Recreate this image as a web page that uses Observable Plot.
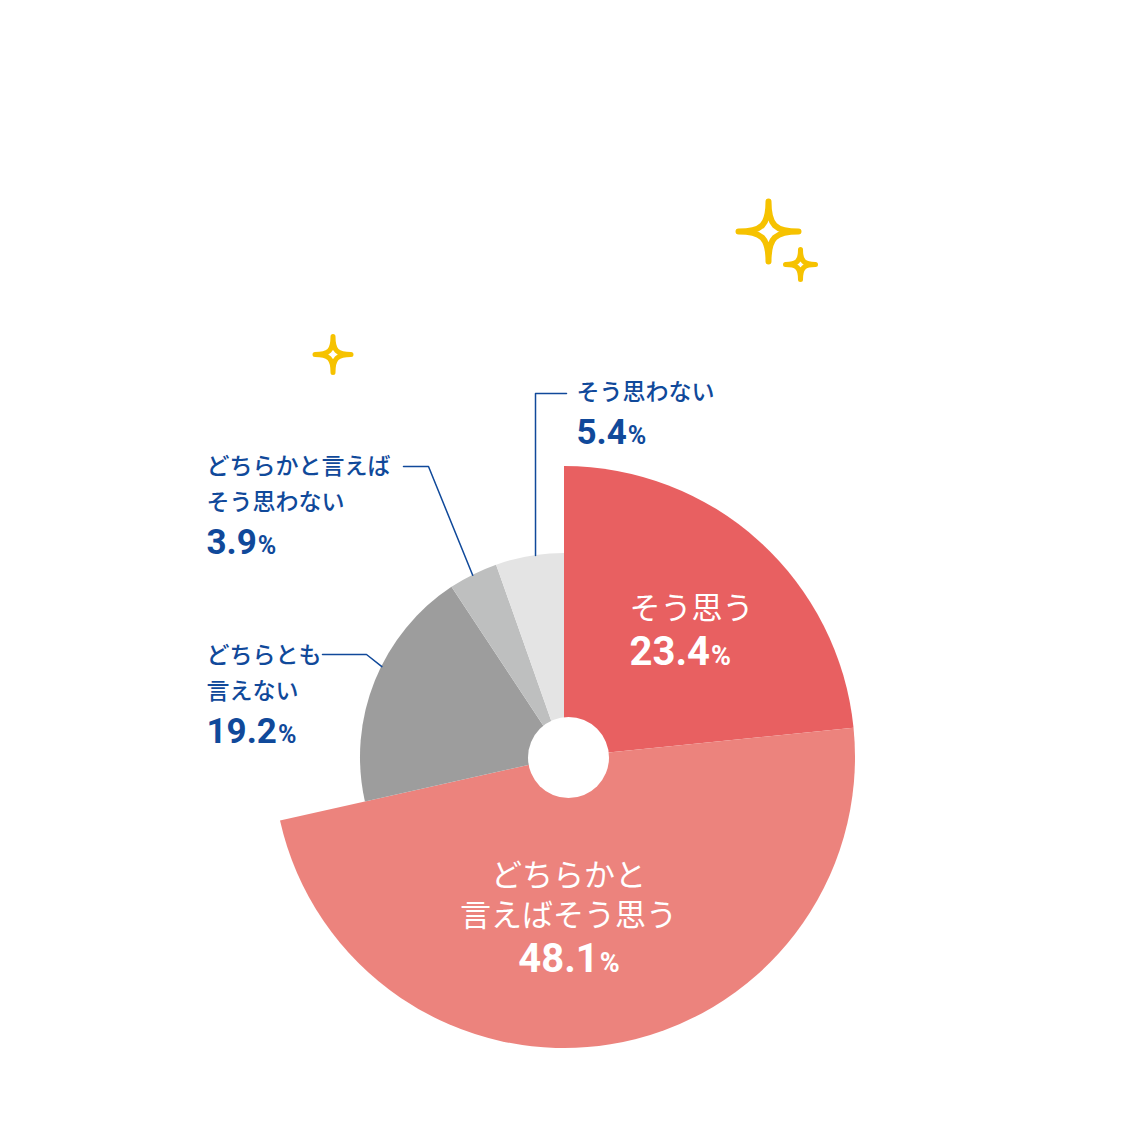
<!DOCTYPE html>
<html><head><meta charset="utf-8">
<script src="https://cdn.jsdelivr.net/npm/d3@7"></script>
<script src="https://cdn.jsdelivr.net/npm/@observablehq/plot@0.6"></script>
<style>html,body{margin:0;padding:0;background:#fff;} #chart svg{display:block}</style>
</head><body><div id="chart"></div>
<script>
// ---- data ----
const categories = ["そう思う", "どちらかと言えばそう思う", "どちらとも言えない", "どちらかと言えばそう思わない", "そう思わない"];
const values = [23.4, 48.1, 19.2, 3.9, 5.4];
const labelLines = [["そう思う"], ["どちらかと", "言えばそう思う"], ["どちらとも", "言えない"], ["どちらかと言えば", "そう思わない"], ["そう思わない"]];

// ---- styles ----
const sliceColors = ["#E86061", "#EC837D", "#9D9D9D", "#BEBFBF", "#E4E4E4"];
const blue = "#10499A";
const gold = "#F6C200";
const jpFont = "'Noto Sans CJK JP', 'Noto Sans', sans-serif";
const numFont = "Roboto, 'Liberation Sans', sans-serif";

// ---- layout (screen px) ----
const W = 1132, H = 1132;
const pieCenter = [564, 757];
const sliceRadius = [291, 291, 204, 204, 204];
const hole = {x: 568, y: 757, r: 40.5};
const labelLayout = [
  {x: 629, y: 618, anchor: "start", inside: true},
  {x: 568, y: 885, anchor: "middle", inside: true},
  {x: 206, y: 662, anchor: "start", inside: false},
  {x: 206, y: 473, anchor: "start", inside: false},
  {x: 576, y: 399, anchor: "start", inside: false}
];
const leaderLayout = [
  {slice: 2, frac: 0.565, elbow: [366, 654], end: [322, 654]},
  {slice: 3, frac: 0.48, elbow: [428, 466], end: [403, 466]},
  {slice: 4, frac: 0.58, elbow: [535, 393], end: [566, 393]}
];
const sparkles = [
  {x: 768, y: 231, r: 30, sw: 6},
  {x: 800, y: 264, r: 15, sw: 5},
  {x: 332.5, y: 354, r: 18, sw: 5}
];
const sizes = {
  inside: {text: 31, num: 40, pct: 27, lineGap: 40, numGap: 46, weight: 400},
  outside: {text: 23, num: 35, pct: 25, lineGap: 36, numGap: 44, weight: 500}
};

// ---- derived ----
const arcs = d3.pie().sort(null).value(d => d)(values);
const canvas = document.createElement("canvas");
const ctx = canvas.getContext("2d");
function measure(text, size) {
  ctx.font = `bold ${size}px ${numFont}`;
  return ctx.measureText(text).width;
}

const textRows = [], numRows = [], pctRows = [];
labelLayout.forEach((L, i) => {
  const s = L.inside ? sizes.inside : sizes.outside;
  const grp = L.inside ? "in" : "out";
  const n = labelLines[i].length;
  textRows.push({x: L.x, y: L.y + (n - 1) * s.lineGap, text: labelLines[i].join("\n"), grp, anchor: L.anchor});
  const ny = L.y + (n - 1) * s.lineGap + s.numGap;
  const numText = values[i].toFixed(1);
  const wN = measure(numText, s.num), wP = measure("%", s.pct);
  const x0 = L.anchor === "middle" ? L.x - (wN + wP) / 2 : L.x;
  numRows.push({x: x0, y: ny, text: numText, grp});
  pctRows.push({x: x0 + wN + 1, y: ny, text: "%", grp});
});

const leaderPts = [];
leaderLayout.forEach((d, k) => {
  const a = arcs[d.slice];
  const ang = a.startAngle + d.frac * (a.endAngle - a.startAngle);
  const r = sliceRadius[d.slice];
  leaderPts.push({k, x: pieCenter[0] + r * Math.sin(ang), y: pieCenter[1] - r * Math.cos(ang)});
  leaderPts.push({k, x: d.elbow[0], y: d.elbow[1]});
  leaderPts.push({k, x: d.end[0], y: d.end[1]});
});

const sparkleSymbol = {
  draw(c, size) {
    const r = Math.sqrt(size / Math.PI), k = 0.22 * r;
    c.moveTo(0, -r);
    c.bezierCurveTo(0, -k, k, 0, r, 0);
    c.bezierCurveTo(k, 0, 0, k, 0, r);
    c.bezierCurveTo(0, k, -k, 0, -r, 0);
    c.bezierCurveTo(-k, 0, 0, -k, 0, -r);
    c.closePath();
  }
};

function pieMark(...args) {
  const sc = args.find(a => a && typeof a.x === "function" && typeof a.y === "function") || {x: v => v, y: v => v};
  const cx = sc.x(pieCenter[0]), cy = sc.y(pieCenter[1]);
  const kx = Math.abs(sc.x(1) - sc.x(0));
  const g = d3.create("svg:g").attr("transform", `translate(${cx},${cy})`);
  g.selectAll("path").data(arcs).join("path")
    .attr("d", (a, i) => d3.arc().innerRadius(0).outerRadius(sliceRadius[i] * kx)(a))
    .attr("fill", (a, i) => sliceColors[i]);
  return g.node();
}

const inRows = r => r.filter(d => d.grp === "in");
const outRows = r => r.filter(d => d.grp === "out");
const inLH = sizes.inside.lineGap / sizes.inside.text;
const outLH = sizes.outside.lineGap / sizes.outside.text;

const chart = Plot.plot({
  width: W, height: H, margin: 0,
  x: {domain: [0, W], range: [0, W], axis: null},
  y: {domain: [0, H], range: [0, H], axis: null},
  style: {background: "#fff"},
  marks: [
    pieMark,
    Plot.dot([hole], {x: "x", y: "y", r: hole.r, fill: "#fff"}),
    Plot.line(leaderPts, {x: "x", y: "y", z: "k", stroke: blue, strokeWidth: 1.5, curve: "linear"}),
    ...sparkles.map(s => Plot.dot([s], {x: "x", y: "y", r: s.r, symbol: sparkleSymbol, fill: "none", stroke: gold, strokeWidth: s.sw, strokeLinejoin: "round"})),
    Plot.text(inRows(textRows).filter(d => d.anchor === "start"), {x: "x", y: "y", text: "text", textAnchor: "start", lineAnchor: "bottom", lineHeight: inLH, fill: "#fff", fontSize: sizes.inside.text, fontWeight: sizes.inside.weight, fontFamily: jpFont}),
    Plot.text(inRows(textRows).filter(d => d.anchor === "middle"), {x: "x", y: "y", text: "text", textAnchor: "middle", lineAnchor: "bottom", lineHeight: inLH, fill: "#fff", fontSize: sizes.inside.text, fontWeight: sizes.inside.weight, fontFamily: jpFont}),
    Plot.text(inRows(numRows), {x: "x", y: "y", text: "text", textAnchor: "start", lineAnchor: "bottom", fill: "#fff", fontSize: sizes.inside.num, fontWeight: "bold", fontFamily: numFont}),
    Plot.text(inRows(pctRows), {x: "x", y: "y", text: "text", textAnchor: "start", lineAnchor: "bottom", fill: "#fff", fontSize: sizes.inside.pct, fontWeight: "bold", fontFamily: numFont}),
    Plot.text(outRows(textRows), {x: "x", y: "y", text: "text", textAnchor: "start", lineAnchor: "bottom", lineHeight: outLH, fill: blue, fontSize: sizes.outside.text, fontWeight: sizes.outside.weight, fontFamily: jpFont}),
    Plot.text(outRows(numRows), {x: "x", y: "y", text: "text", textAnchor: "start", lineAnchor: "bottom", fill: blue, fontSize: sizes.outside.num, fontWeight: "bold", fontFamily: numFont}),
    Plot.text(outRows(pctRows), {x: "x", y: "y", text: "text", textAnchor: "start", lineAnchor: "bottom", fill: blue, fontSize: sizes.outside.pct, fontWeight: "bold", fontFamily: numFont})
  ]
});
document.getElementById("chart").append(chart);
</script>
</body></html>
